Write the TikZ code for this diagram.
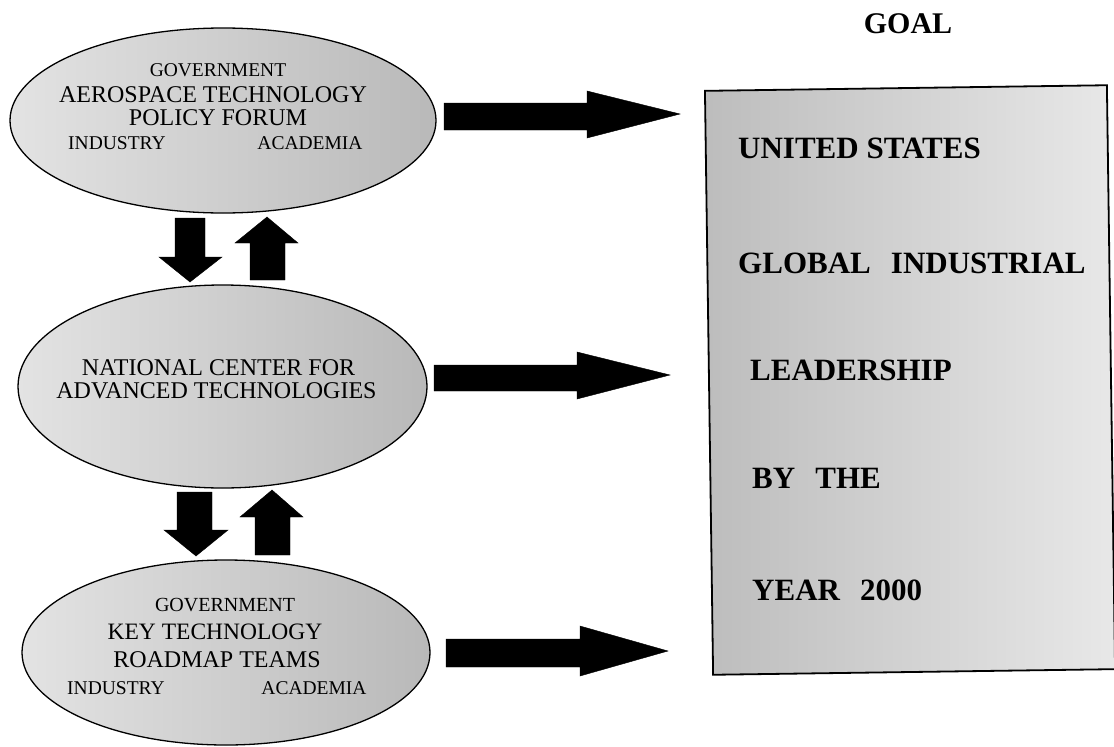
\documentclass[tikz,border=0pt]{standalone}
\usepackage{fontspec}
\setmainfont{Liberation Serif}
\usetikzlibrary{shapes.geometric}
\tikzset{
  oval/.style={ellipse, draw=black, line width=1.3pt, inner sep=0pt, outer sep=0pt,
    left color=gray!22, right color=gray!55},
  goalbox/.style={rectangle, draw=black, line width=1.8pt, inner sep=0pt,
    left color=gray!52, right color=gray!18},
  bigtxt/.style={font=\fontsize{24}{24}\selectfont, inner sep=0pt},
  smalltxt/.style={font=\fontsize{19.5}{19.5}\selectfont, inner sep=0pt},
  goaltxt/.style={font=\bfseries\fontsize{31}{31}\selectfont, anchor=west, inner sep=0pt},
  blockarrow/.style={fill=black, draw=black, line width=0.4pt, line join=miter}
}
\begin{document}
\begin{tikzpicture}[x=1pt,y=-1pt]
\useasboundingbox (0,0) rectangle (1114,747);

% ellipses
\node[oval, minimum width=426pt, minimum height=185pt] (e1) at (223,120.5) {};
\node[oval, minimum width=409pt, minimum height=203pt] (e2) at (222.5,386.5) {};
\node[oval, minimum width=408pt, minimum height=185pt] (e3) at (226,652.5) {};

% goal box
\node[goalbox, rotate=0.8, minimum width=402pt, minimum height=584pt] (goal) at (910,380) {};

% texts in ellipse 1
\node[smalltxt] (e1gov) at (218,70) {GOVERNMENT};
\node[bigtxt] (e1aero) at (213,95) {AEROSPACE TECHNOLOGY};
\node[bigtxt] (e1pol) at (218,118) {POLICY FORUM};
\node[smalltxt] (e1ind) at (117,143) {INDUSTRY};
\node[smalltxt] (e1acad) at (310,143) {ACADEMIA};

% texts in ellipse 2
\node[bigtxt] (e2nat) at (218.5,367.5) {NATIONAL CENTER FOR};
\node[bigtxt] (e2adv) at (216.5,391) {ADVANCED TECHNOLOGIES};

% texts in ellipse 3
\node[font=\fontsize{20}{20}\selectfont, inner sep=0pt] (e3gov) at (225,605) {GOVERNMENT};
\node[font=\fontsize{23.5}{23.5}\selectfont, inner sep=0pt] (e3key) at (215,632) {KEY TECHNOLOGY};
\node[bigtxt] (e3road) at (217,660) {ROADMAP TEAMS};
\node[smalltxt] (e3ind) at (116,688) {INDUSTRY};
\node[smalltxt] (e3acad) at (314,688) {ACADEMIA};

% goal title and box text
\node[font=\bfseries\fontsize{30}{30}\selectfont, inner sep=0pt] (goaltitle) at (908,24) {GOAL};
\node[goaltxt] (g1) at (738,148) {UNITED STATES};
\node[goaltxt] (g2) at (738,263) {GLOBAL\hspace{0.65em}INDUSTRIAL};
\node[goaltxt] (g3) at (750,370) {LEADERSHIP};
\node[goaltxt] (g4) at (752,478) {BY\hspace{0.65em}THE};
\node[goaltxt] (g5) at (752,590) {YEAR\hspace{0.65em}2000};

% right block arrows
\fill[blockarrow] (444,103) -- (587,103) -- (587,91) -- (680,114) -- (587,138) -- (587,130) -- (444,130) -- cycle;
\fill[blockarrow] (434,365) -- (577,365) -- (577,352) -- (670,375) -- (577,399) -- (577,391) -- (434,391) -- cycle;
\fill[blockarrow] (446,639) -- (580,639) -- (580,626) -- (668,651) -- (580,676) -- (580,667) -- (446,667) -- cycle;

% vertical block arrows between ellipses 1 and 2
\fill[blockarrow] (175,218) -- (205,218) -- (205,257) -- (222,257) -- (190,282) -- (159,257) -- (175,257) -- cycle;
\fill[blockarrow] (250,280) -- (285,280) -- (285,243) -- (298,243) -- (267,217) -- (235,243) -- (250,243) -- cycle;

% vertical block arrows between ellipses 2 and 3
\fill[blockarrow] (177,492) -- (212,492) -- (212,530) -- (228,530) -- (196,556) -- (164,530) -- (177,530) -- cycle;
\fill[blockarrow] (255,555) -- (290,555) -- (290,517) -- (303,517) -- (272,490) -- (240,517) -- (255,517) -- cycle;
\end{tikzpicture}
\end{document}
